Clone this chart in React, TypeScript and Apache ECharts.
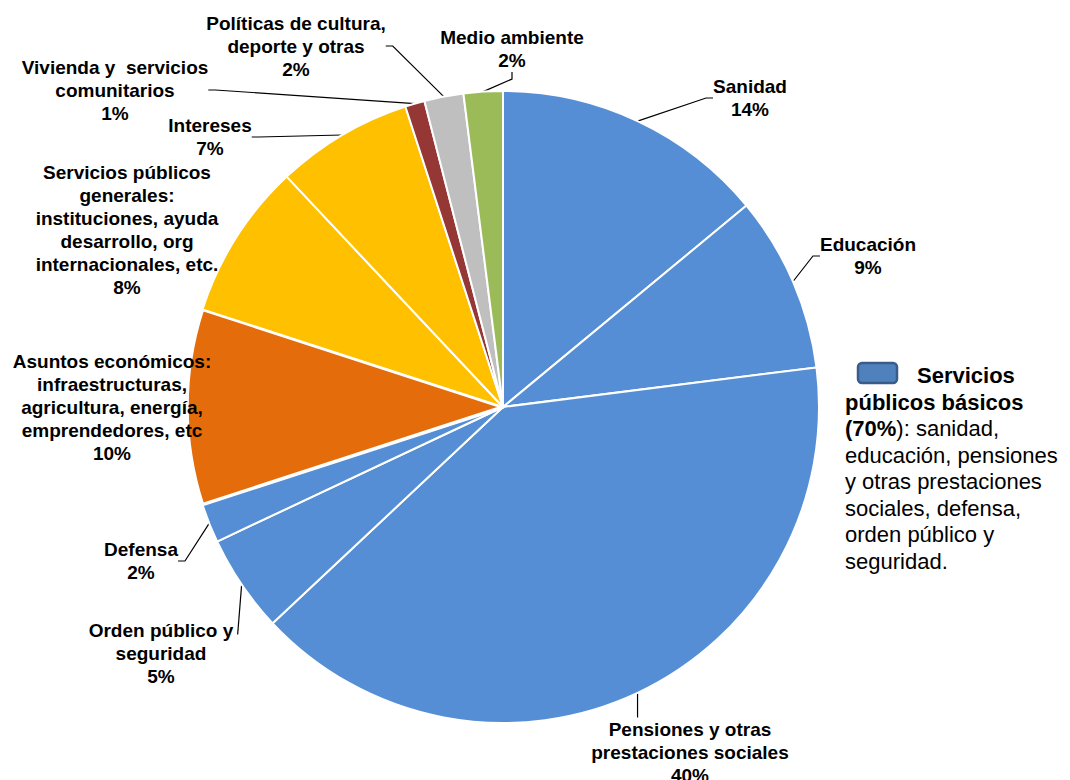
import React, { useEffect, useRef } from "react";
import * as echarts from "echarts";

const categories = [
  "Sanidad",
  "Educación",
  "Pensiones y otras\nprestaciones sociales",
  "Orden público y\nseguridad",
  "Defensa",
  "Asuntos económicos:\ninfraestructuras,\nagricultura, energía,\nemprendedores, etc",
  "Servicios públicos\ngenerales:\ninstituciones, ayuda\ndesarrollo, org\ninternacionales, etc.",
  "Intereses",
  "Vivienda y  servicios\ncomunitarios",
  "Políticas de cultura,\ndeporte y otras",
  "Medio ambiente",
];
const shares = [14, 9, 40, 5, 2, 10, 8, 7, 1, 2, 2];
const sliceColors = [
  "#558ED5", "#558ED5", "#558ED5", "#558ED5", "#558ED5",
  "#E46C0A", "#FFC000", "#FFC000", "#953735", "#BFBFBF", "#9BBB59",
];
const legendHead = "Servicios";
const legendBody = [
  [["públicos básicos", "b"]],
  [["(70%", "b"], ["): sanidad,", "n"]],
  [["educación, pensiones", "n"]],
  [["y otras prestaciones", "n"]],
  [["sociales, defensa,", "n"]],
  [["orden público y", "n"]],
  [["seguridad.", "n"]],
];

// label block centres (layout only)
const labelCenters: [number, number][] = [
  [750, 98], [868, 256], [690, 752], [161, 653], [141, 561],
  [112, 407], [127, 230], [210, 137], [115, 90], [296, 46], [512, 49],
];
const noLeader = [5, 6];

const FONT = "'Liberation Sans', Arial, sans-serif";

export default function App() {
  const ref = useRef<HTMLDivElement>(null);
  useEffect(() => {
    document.body.style.margin = "0";
    const chart = echarts.init(ref.current!, null, { renderer: "svg" });
    const data = categories.map((name, i) => ({
      name,
      value: shares[i],
      itemStyle: { color: sliceColors[i], borderWidth: i === 5 ? 3.5 : 2 },
      labelLine: { show: noLeader.indexOf(i) < 0 },
    }));
    const bodyText = legendBody
      .map((line) => line.map(([t, s]) => `{${s}|${t}}`).join(""))
      .join("\n");
    chart.setOption({
      animation: false,
      backgroundColor: "#ffffff",
      series: [
        {
          type: "pie",
          center: [503, 407],
          radius: 316,
          startAngle: 90,
          clockwise: true,
          data,
          itemStyle: { borderColor: "#ffffff", borderWidth: 2 },
          label: {
            show: true,
            position: "outside",
            formatter: (p: any) => `${p.name}\n${p.value}%`,
            fontFamily: FONT,
            fontSize: 19,
            fontWeight: "bold",
            color: "#000000",
            lineHeight: 23,
            align: "center",
            overflow: "none",
            edgeDistance: 0,
          },
          labelLine: {
            show: true,
            length: 10,
            length2: 7,
            lineStyle: { color: "#000000", width: 1.2 },
          },
          labelLayout: (p: any) => {
            const c = labelCenters[p.dataIndex];
            const out: any = { x: c[0], y: c[1], align: "center", verticalAlign: "middle" };
            const pts = p.labelLinePoints;
            if (pts && pts.length) {
              const a = pts[0];
              const top = c[1] - p.labelRect.height / 2;
              if (p.dataIndex === 2) {
                out.labelLinePoints = [[a[0], a[1]], [a[0], top], [a[0], top]];
              } else if (p.dataIndex === 3) {
                out.labelLinePoints = [[a[0], a[1]], [a[0] - 4, top + 16], [a[0] - 4, top + 16]];
              }
            }
            return out;
          },
          emphasis: { disabled: true },
        },
      ],
      graphic: [
        {
          type: "rect",
          shape: { x: 858, y: 363, width: 39, height: 20, r: 4 },
          style: { fill: "#4F81BD", stroke: "#385D8A", lineWidth: 2.5 },
        },
        {
          type: "text",
          x: 917,
          y: 362,
          style: {
            text: legendHead,
            fontFamily: FONT,
            fontSize: 22,
            fontWeight: "bold",
            fill: "#000000",
            lineHeight: 26.5,
          },
        },
        {
          type: "text",
          x: 845,
          y: 389,
          style: {
            text: bodyText,
            fontFamily: FONT,
            fontSize: 22,
            fill: "#000000",
            lineHeight: 26.5,
            rich: {
              b: { fontFamily: FONT, fontSize: 22, fontWeight: "bold", fill: "#000000", lineHeight: 26.5 },
              n: { fontFamily: FONT, fontSize: 22, fill: "#000000", lineHeight: 26.5 },
            },
          },
        },
      ],
    });
    return () => chart.dispose();
  }, []);
  return <div ref={ref} style={{ width: 1070, height: 780 }} />;
}
